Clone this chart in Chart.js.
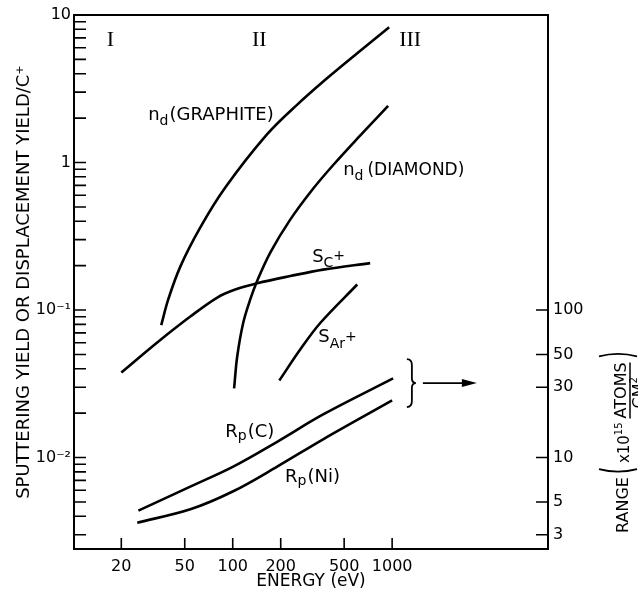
<!DOCTYPE html>
<html>
<head>
<meta charset="utf-8">
<script src="https://cdn.jsdelivr.net/npm/chart.js@4.4.1/dist/chart.umd.min.js"></script>
<style>
  html, body { margin: 0; padding: 0; background: #fff; }
</style>
</head>
<body>
<canvas id="chart" width="638" height="590"></canvas>
<script>
// Werte: Energie (eV) gegen Ausbeute
let graphiteEnergy = [35.6, 39.4, 46.9, 62.5, 89.8, 164, 254, 392, 604, 958];
let graphiteYield = [0.079, 0.118, 0.197, 0.362, 0.677, 1.55, 2.47, 3.74, 5.51, 8.25];

let diamondEnergy = [102, 106.7, 116.4, 128.8, 142.5, 172, 229.5, 320, 427, 604, 944];
let diamondYield = [0.0294, 0.0484, 0.082, 0.118, 0.158, 0.245, 0.41, 0.666, 0.962, 1.45, 2.42];

let sCarbonEnergy = [20, 33.6, 54.2, 80, 103.7, 142.5, 229.5, 369, 728];
let sCarbonYield = [0.0377, 0.0603, 0.0904, 0.1216, 0.1377, 0.152, 0.170, 0.188, 0.208];

let sArgonEnergy = [196, 265, 354, 604];
let sArgonYield = [0.0333, 0.054, 0.0817, 0.149];

// Reichweite (x10^15 Atome/cm^2), rechte Achse
let rpCarbonEnergy = [25.6, 54.2, 100.7, 190, 369, 1014];
let rpCarbonRange = [4.37, 6.36, 8.69, 12.8, 19.6, 34.4];

let rpNickelEnergy = [25.2, 54.2, 100.7, 190, 369, 1000];
let rpNickelRange = [3.62, 4.46, 5.91, 8.68, 13.3, 24.4];

// Achsenticks
let xTicks = [20, 50, 100, 200, 500, 1000];
let yTicks = [0.003, 0.004, 0.005, 0.006, 0.007, 0.008, 0.009,
              0.01, 0.02, 0.03, 0.04, 0.05, 0.06, 0.07, 0.08, 0.09,
              0.1, 0.2, 0.3, 0.4, 0.5, 0.6, 0.7, 0.8, 0.9,
              1, 2, 3, 4, 5, 6, 7, 8, 9, 10];
let yTickLabels = {"10": "10", "1": "1", "0.1": "10\u207B\u00B9", "0.01": "10\u207B\u00B2"};
let rangeTicks = [3, 5, 10, 30, 50, 100];

const FONT = '"DejaVu Sans"';

function toPoints(xs, ys){
    return xs.map(function (x, i){ return {x: x, y: ys[i]}; });
}

function curve(xs, ys, axis){
    return {
        data: toPoints(xs, ys),
        yAxisID: axis,
        showLine: true,
        borderColor: '#000',
        borderWidth: 2.6,
        pointRadius: 0,
        tension: 0.35
    };
}

// Beschriftungen im Diagramm (Ankerpunkt in Datenkoordinaten)
const curveLabels = [
    {e: 29.5, v: 1.93, axis: 'y', parts: [['n', 18, 0], ['d', 14, 5, 1], ['(GRAPHITE)', 18, 0]]},
    {e: 493, v: 0.817, axis: 'y', parts: [['n', 18, 0], ['d', 14, 5, 4], ['(DIAMOND)', 17, 0]]},
    {e: 315, v: 0.213, axis: 'y', parts: [['S', 18, 0], ['C', 14, 5], ['+', 14, -2]]},
    {e: 344, v: 0.0611, axis: 'y', parts: [['S', 18, 0], ['Ar', 14, 6], ['+', 14, -1]]},
    {e: 89.8, v: 0.01387, axis: 'y', parts: [['R', 18, 0], ['p', 14, 3, 1], ['(C)', 18, 0]]},
    {e: 213, v: 0.00678, axis: 'y', parts: [['R', 18, 0], ['p', 14, 3, 1], ['(Ni)', 18, 0]]}
];
const regions = [['I', 17.1], ['II', 146.6], ['III', 1297]];

function drawParts(ctx, x, y, parts){
    parts.forEach(function (p){
        ctx.font = p[1] + 'px ' + FONT;
        ctx.fillText(p[0], x, y + p[2]);
        x += ctx.measureText(p[0]).width + (p[3] || 0);
    });
    return x;
}

// duenne grosse Klammer im gedrehten Koordinatensystem
function paren(ctx, x, open){
    const d = open ? -5 : 5;
    ctx.beginPath();
    ctx.moveTo(x, 9);
    ctx.quadraticCurveTo(x + d, -10, x, -29);
    ctx.stroke();
}

const decoPlugin = {
    id: 'deco',
    afterDraw: function (chart){
        const ctx = chart.ctx;
        const a = chart.chartArea;
        const sx = chart.scales.x, sy = chart.scales.y, sr = chart.scales.y2;
        ctx.save();
        ctx.strokeStyle = '#000';
        ctx.fillStyle = '#000';

        // Rahmen
        ctx.lineWidth = 2;
        ctx.strokeRect(a.left, a.top, a.right - a.left, a.bottom - a.top);

        // Ticks nach innen
        ctx.lineWidth = 1.6;
        ctx.beginPath();
        sx.ticks.forEach(function (t){
            const p = sx.getPixelForValue(t.value);
            ctx.moveTo(p, a.bottom); ctx.lineTo(p, a.bottom - 11);
        });
        sy.ticks.forEach(function (t){
            const p = sy.getPixelForValue(t.value);
            ctx.moveTo(a.left, p); ctx.lineTo(a.left + 12, p);
        });
        sr.ticks.forEach(function (t){
            const p = sr.getPixelForValue(t.value);
            ctx.moveTo(a.right, p); ctx.lineTo(a.right - 12, p);
        });
        ctx.stroke();

        // Bereiche I, II, III
        ctx.font = '22px "Liberation Serif"';
        ctx.textAlign = 'center';
        ctx.textBaseline = 'middle';
        regions.forEach(function (r){
            ctx.fillText(r[0], sx.getPixelForValue(r[1]), sy.getPixelForValue(6.7));
        });

        // Kurvenbeschriftungen
        ctx.textAlign = 'left';
        ctx.textBaseline = 'alphabetic';
        curveLabels.forEach(function (l){
            drawParts(ctx, sx.getPixelForValue(l.e), chart.scales[l.axis].getPixelForValue(l.v), l.parts);
        });

        // Klammer und Pfeil
        const bx = sx.getPixelForValue(1330), by = sr.getPixelForValue(32);
        ctx.lineWidth = 1.8;
        ctx.beginPath();
        ctx.moveTo(bx - 5, by - 24);
        ctx.quadraticCurveTo(bx, by - 24, bx, by - 18);
        ctx.lineTo(bx, by - 5);
        ctx.quadraticCurveTo(bx, by, bx + 4, by);
        ctx.quadraticCurveTo(bx, by, bx, by + 5);
        ctx.lineTo(bx, by + 18);
        ctx.quadraticCurveTo(bx, by + 24, bx - 5, by + 24);
        ctx.stroke();
        const ax0 = bx + 11, ax1 = sx.getPixelForValue(3400);
        ctx.beginPath();
        ctx.moveTo(ax0, by); ctx.lineTo(ax1 - 12, by);
        ctx.stroke();
        ctx.beginPath();
        ctx.moveTo(ax1, by); ctx.lineTo(ax1 - 15, by - 4); ctx.lineTo(ax1 - 15, by + 4);
        ctx.closePath();
        ctx.fill();

        // Titel der rechten Achse
        ctx.translate(a.right + 80, a.bottom - 16);
        ctx.rotate(-Math.PI / 2);
        let x = drawParts(ctx, 0, 0, [['RANGE', 16, 0]]) + 8;
        ctx.lineWidth = 1.6;
        paren(ctx, x, true);
        x += 6;
        x = drawParts(ctx, x, 1, [['x10', 15, 0], ['15', 10, -7]]) + 4;
        const fracStart = x;
        x = drawParts(ctx, x, -2, [['ATOMS', 16, 0]]);
        ctx.lineWidth = 1.5;
        ctx.beginPath();
        ctx.moveTo(fracStart, 2); ctx.lineTo(x, 2);
        ctx.stroke();
        drawParts(ctx, fracStart + 10, 16, [['CM', 16, 0], ['2', 10, -7]]);
        ctx.lineWidth = 1.6;
        paren(ctx, x + 6, false);

        ctx.restore();
    }
};

Chart.defaults.color = '#000';
Chart.defaults.font.family = FONT;

const config = {
    type: 'scatter',
    data: {
        datasets: [
            curve(graphiteEnergy, graphiteYield, 'y'),
            curve(diamondEnergy, diamondYield, 'y'),
            curve(sCarbonEnergy, sCarbonYield, 'y'),
            curve(sArgonEnergy, sArgonYield, 'y'),
            curve(rpCarbonEnergy, rpCarbonRange, 'y2'),
            curve(rpNickelEnergy, rpNickelRange, 'y2')
        ]
    },
    options: {
        responsive: false,
        animation: false,
        devicePixelRatio: 1,
        layout: {padding: {top: 15, left: 0, right: 0, bottom: 0}},
        plugins: {legend: {display: false}, tooltip: {enabled: false}},
        scales: {
            x: {
                type: 'logarithmic',
                min: 10.1,
                max: 9500,
                grid: {display: false, drawTicks: false},
                border: {display: false},
                afterBuildTicks: function (s){ s.ticks = xTicks.map(function (v){ return {value: v}; }); },
                afterFit: function (s){ s.height = 41; },
                ticks: {
                    autoSkip: false, maxRotation: 0, padding: 8,
                    font: {size: 16},
                    callback: function (v){ return String(v); }
                },
                title: {display: true, text: 'ENERGY (eV)', font: {size: 17, lineHeight: 1}, padding: {top: 0, bottom: 0}}
            },
            y: {
                type: 'logarithmic',
                position: 'left',
                min: 0.0024,
                max: 10,
                grid: {display: false, drawTicks: false},
                border: {display: false},
                afterBuildTicks: function (s){ s.ticks = yTicks.map(function (v){ return {value: v}; }); },
                afterFit: function (s){ s.width = 74; },
                ticks: {
                    autoSkip: false, padding: 3,
                    font: {size: 16},
                    callback: function (v){ return yTickLabels[String(v)] || ''; }
                },
                title: {display: true, text: 'SPUTTERING YIELD OR DISPLACEMENT YIELD/C\u207A', font: {size: 18, lineHeight: 1}, padding: {top: 15, bottom: 0}}
            },
            y2: {
                type: 'logarithmic',
                position: 'right',
                min: 2.4,
                max: 10000,
                grid: {display: false, drawTicks: false},
                border: {display: false},
                afterBuildTicks: function (s){ s.ticks = rangeTicks.map(function (v){ return {value: v}; }); },
                afterFit: function (s){ s.width = 90; },
                ticks: {
                    autoSkip: false, padding: 5,
                    font: {size: 16},
                    callback: function (v){ return String(v); }
                }
            }
        }
    },
    plugins: [decoPlugin]
};

let chart = new Chart(document.getElementById('chart'), config);
</script>
</body>
</html>
